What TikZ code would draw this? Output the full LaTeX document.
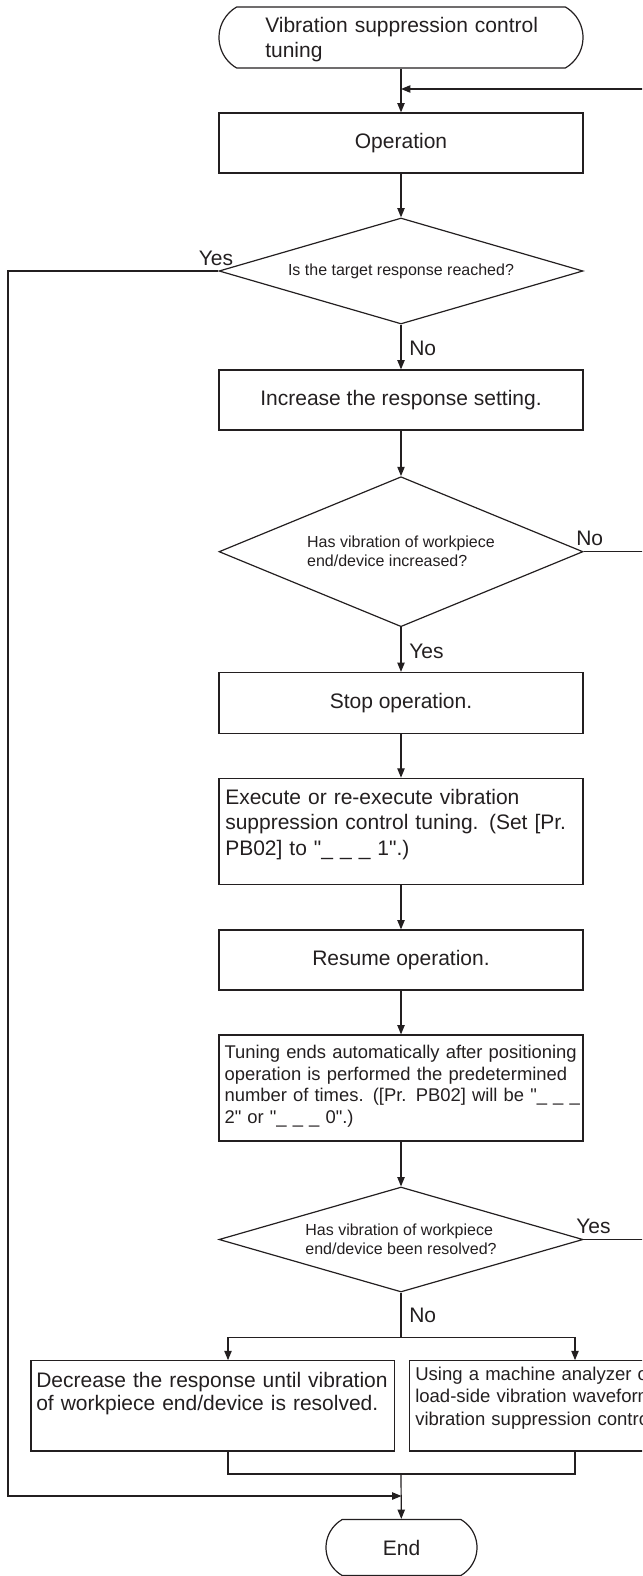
\documentclass[tikz,border=0pt]{standalone}
\usepackage{fontspec}
\setmainfont{Liberation Sans}
\usetikzlibrary{arrows.meta,shapes.geometric,shapes.misc}
\definecolor{linegray}{HTML}{231F20}
\newcommand{\flowfont}[2]{\fontsize{#1}{#2}\selectfont}
\newcommand{\dq}{\textquotedbl}

\begin{document}
\begin{tikzpicture}[x=0.75pt,y=-0.75pt,color=linegray]
\tikzset{
  termnode/.style={rounded rectangle,rounded rectangle arc length=120,draw,line width=0.9pt,inner sep=0pt},
  procnode/.style={rectangle,draw,line width=0.9pt,minimum width=273pt,inner sep=0pt,font={\flowfont{15.75pt}{19pt}}},
  decnode/.style={diamond,draw,line width=0.9pt,inner sep=0pt,shape aspect=3,minimum width=273pt,align=left,font={\flowfont{12pt}{14.25pt}}},
  boxtext/.style={inner sep=0pt,align=left,anchor=base west},
  yesno/.style={inner sep=0pt,font={\flowfont{15.75pt}{19pt}}},
  directed/.style={-{Triangle[length=7pt,width=5.5pt]},line width=0.9pt},
  plain/.style={line width=0.9pt}
}
\useasboundingbox (0,0) rectangle (642,1576);
\clip (0,0) rectangle (642,1576);
\node[termnode,minimum width=273pt,minimum height=45.75pt] (n_start) at (401,37.5) {};
\node[boxtext,text width=240pt,font={\flowfont{15.75pt}{18.75pt}}] (t_start) at (265,32.5) {Vibration suppression control\\tuning};
\node[procnode,minimum height=45pt] (n_oper) at (401,143) {Operation};
\node[decnode,minimum height=79.5pt] (n_d1) at (401,271) {Is the target response reached?};
\node[procnode,minimum height=45pt] (n_inc) at (401,400) {Increase the response setting.};
\node[decnode,minimum height=112.5pt] (n_d2) at (401,551.7) {Has vibration of workpiece\\end/device increased?};
\node[procnode,minimum height=45.75pt] (n_stop) at (401,703) {Stop operation.};
\node[procnode,minimum height=79.5pt] (n_exec) at (401,831.3) {};
\node[boxtext,text width=270pt,font={\flowfont{15.75pt}{19.35pt}}] (t_exec) at (225,804) {Execute or re-execute vibration\\suppression control tuning. (Set [Pr.\\PB02] to \dq\_ \_ \_ 1\dq.)};
\node[procnode,minimum height=45pt] (n_resume) at (401,960) {Resume operation.};
\node[procnode,minimum height=79.5pt] (n_tune) at (401,1088) {};
\node[boxtext,text width=270pt,font={\flowfont{13.8pt}{16.3pt}}] (t_tune) at (224.3,1058.3) {Tuning ends automatically after positioning\\operation is performed the predetermined\\number of times. ([Pr. PB02] will be \dq\_ \_ \_\\2\dq{} or \dq\_ \_ \_ 0\dq.)};
\node[decnode,minimum height=78.75pt] (n_d3) at (401,1239.5) {Has vibration of workpiece\\end/device been resolved?};
\node[procnode,minimum width=272.5pt,minimum height=67.7pt] (n_dec) at (212.7,1405.9) {};
\node[boxtext,text width=268pt,font={\flowfont{15.75pt}{17.25pt}}] (t_dec) at (36,1387.5) {Decrease the response until vibration\\of workpiece end/device is resolved.};
\node[procnode,minimum width=272.5pt,minimum height=67.7pt] (n_use) at (591,1405.9) {};
\node[boxtext,text width=290pt,font={\flowfont{13.9pt}{16.9pt}}] (t_use) at (415,1380) {Using a machine analyzer or\\load-side vibration waveform\\vibration suppression control};
\node[termnode,minimum width=113.25pt,minimum height=42pt,font={\flowfont{15.75pt}{19pt}}] (n_end) at (401.5,1547.5) {End};
\node[yesno] (l_yes1) at (216,258) {Yes};
\node[yesno,anchor=west] (l_no1) at (409,348) {No};
\node[yesno,anchor=west] (l_no2) at (576,538.3) {No};
\node[yesno,anchor=west] (l_yes2) at (409,651) {Yes};
\node[yesno,anchor=west] (l_yes3) at (576,1226) {Yes};
\node[yesno,anchor=west] (l_no3) at (409,1315.5) {No};
\coordinate (c_rtop) at (660,89);
\coordinate (c_rbot) at (660,1239.5);
\coordinate (c_lbot) at (8,1496);
\coordinate (c_split) at (401,1337.5);
\coordinate (c_splitL) at (228,1337.5);
\coordinate (c_splitR) at (575,1337.5);
\coordinate (c_merge) at (401,1474);
\draw[directed] (n_start) -- (n_oper);
\draw[directed] (n_oper) -- (n_d1);
\draw[directed] (n_d1) -- (n_inc);
\draw[directed] (n_inc) -- (n_d2);
\draw[directed] (n_d2) -- (n_stop);
\draw[directed] (n_stop) -- (n_exec);
\draw[directed] (n_exec) -- (n_resume);
\draw[directed] (n_resume) -- (n_tune);
\draw[directed] (n_tune) -- (n_d3);
\draw[directed] (n_d3.east) -- (c_rbot) -- (c_rtop) -- (n_oper.north |- c_rtop);
\draw[plain] (n_d2.east) -- (n_d2.east -| c_rtop);
\draw[directed] (n_d1.west) -| (c_lbot) -- (n_end.north |- c_lbot);
\draw[plain] (n_d3.south) -- (c_split);
\draw[directed] (c_split) -- (c_splitL) -- (c_splitL |- n_dec.north);
\draw[directed] (c_split) -- (c_splitR) -- (c_splitR |- n_use.north);
\draw[plain] (c_splitL |- n_dec.south) |- (c_merge);
\draw[plain] (c_splitR |- n_use.south) |- (c_merge);
\draw[directed] (c_merge) -- (n_end);
\end{tikzpicture}
\end{document}
